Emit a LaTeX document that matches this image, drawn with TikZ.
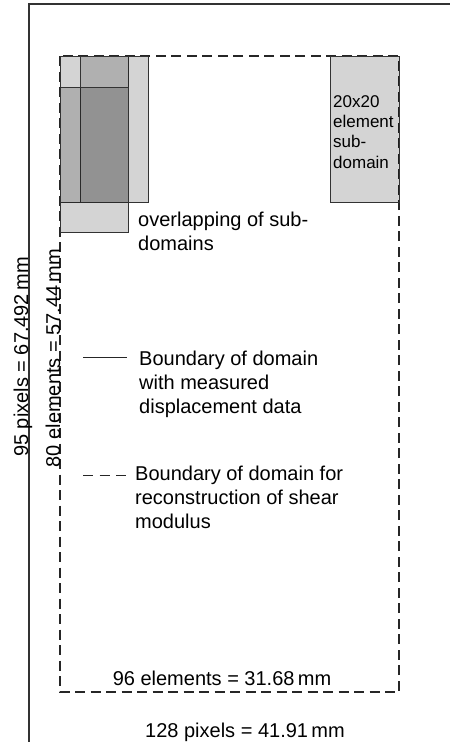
\documentclass[tikz,border=0pt]{standalone}
\usepackage{fontspec}
\setmainfont{Liberation Sans}
\usepackage{tikz}

\begin{document}
\begin{tikzpicture}[x=1pt, y=-1pt,
    txt/.style={font=\fontsize{20}{24}\selectfont, inner sep=0pt, align=left},
    smalltxt/.style={font=\fontsize{17}{20.3}\selectfont, inner sep=0pt, align=left},
    subdom/.style={draw=black!80, line width=1pt, fill=black, fill opacity=0.17},
    bound/.style={black!85, line width=1.4pt, dash pattern=on 10pt off 5.5pt}]
    \useasboundingbox (0,0) rectangle (450,742);
    % measured data boundary, runs off the page
    \draw[line width=1.5pt, black!80] (29,743) -- (29,4) -- (451,4);
    % reconstruction boundary
    \draw[bound] (60,56) rectangle (399,692);
    % overlapping sub-domains
    \draw[subdom] (60,56) rectangle (128,202);
    \draw[subdom] (80,56) rectangle (148,202);
    \draw[subdom] (60,87) rectangle (128,232);
    \draw[subdom] (330,56) rectangle (399,202);
    % (base of a multi-line node = last line)
    \node[smalltxt, anchor=base west] (subtxt) at (333,168) {20x20\\element\\sub-\\domain};
    \node[txt, anchor=base west] (overlap) at (138,250) {overlapping of sub-\\domains};
    % legend
    \coordinate (solidA) at (83,357);
    \coordinate (solidB) at (127,357);
    \draw[line width=1pt, black!85] (solidA) -- (solidB);
    \node[txt, anchor=base west] (measured) at (139,413) {Boundary of domain\\with measured\\displacement data};
    \coordinate (dashA) at (83,475);
    \coordinate (dashB) at (126,475);
    \draw[line width=1pt, black!85, dash pattern=on 10pt off 6.5pt] (dashA) -- (dashB);
    \node[txt, anchor=base west] (recon) at (135,528) {Boundary of domain for\\reconstruction of shear\\modulus};
    % dimensions
    \node[txt, anchor=base] (width96) at (222,685) {96 elements = 31.68\,mm};
    \node[txt, anchor=base] (width128) at (245,737) {128 pixels = 41.91\,mm};
    \node[txt, anchor=base, rotate=90] (height80) at (60,358) {80 elements = 57.44\,mm};
    \node[txt, anchor=base, rotate=90] (height95) at (28,357) {95 pixels = 67.492\,mm};
\end{tikzpicture}
\end{document}
